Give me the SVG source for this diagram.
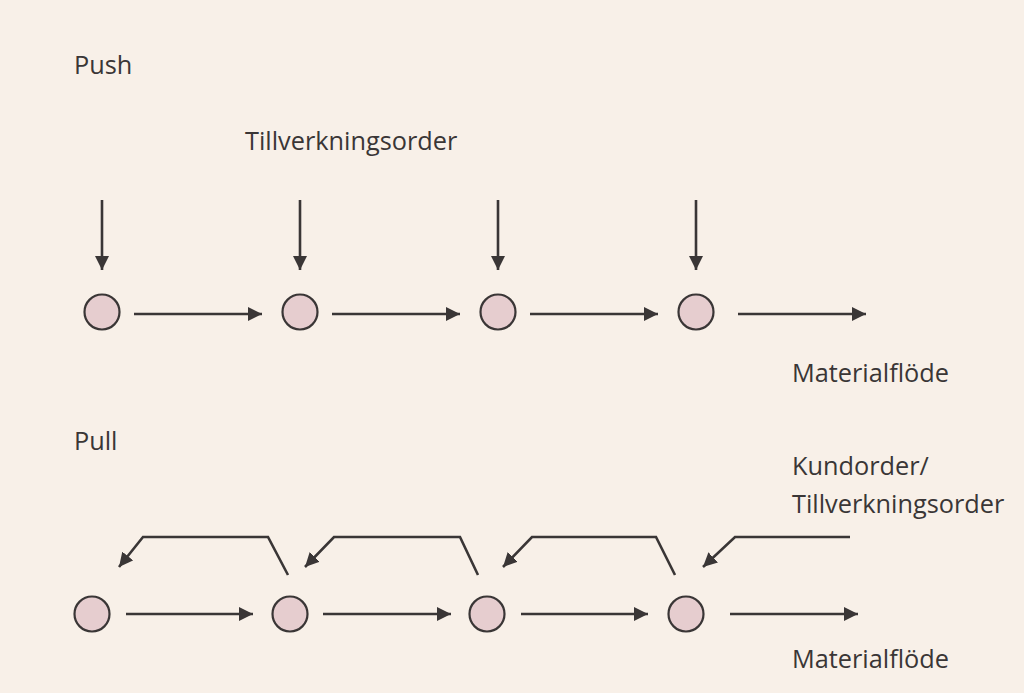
<svg xmlns="http://www.w3.org/2000/svg" width="1024" height="693" viewBox="0 0 1024 693">
<defs>
<marker id="ah" viewBox="0 0 10 10" refX="10" refY="5" markerWidth="14" markerHeight="14" markerUnits="userSpaceOnUse" orient="auto">
<path d="M0,0 L10,5 L0,10 z" fill="#3a3636"/>
</marker>
<style>
.t{font-family:"Open Sans","Noto Sans",sans-serif;font-size:25.3px;fill:#3a3636}
.n{fill:#e6cdcf;stroke:#3a3636;stroke-width:2.2}
.c{fill:none;stroke:#3a3636;stroke-width:2.6;marker-end:url(#ah)}
</style>
</defs>
<rect width="1024" height="693" fill="#f8f0e8"/>
<g id="labels">
<text class="t" x="74" y="74">Push</text>
<text class="t" x="245" y="150">Tillverkningsorder</text>
<text class="t" x="792" y="382">Materialflöde</text>
<text class="t" x="74" y="450">Pull</text>
<text class="t" x="792" y="475">Kundorder/</text>
<text class="t" x="792" y="513">Tillverkningsorder</text>
<text class="t" x="792" y="668">Materialflöde</text>
</g>
<g id="push-nodes">
<circle id="push1" class="n" cx="102" cy="312" r="17.5"/>
<circle id="push2" class="n" cx="300" cy="312" r="17.5"/>
<circle id="push3" class="n" cx="498" cy="312" r="17.5"/>
<circle id="push4" class="n" cx="696" cy="312" r="17.5"/>
</g>
<g id="pull-nodes">
<circle id="pull1" class="n" cx="92" cy="614" r="17.5"/>
<circle id="pull2" class="n" cx="290" cy="614" r="17.5"/>
<circle id="pull3" class="n" cx="487" cy="614" r="17.5"/>
<circle id="pull4" class="n" cx="686" cy="614" r="17.5"/>
</g>
<g id="connectors">
<line class="c" x1="102" y1="200" x2="102" y2="270"/>
<line class="c" x1="300" y1="200" x2="300" y2="270"/>
<line class="c" x1="498" y1="200" x2="498" y2="270"/>
<line class="c" x1="696" y1="200" x2="696" y2="270"/>
<line class="c" x1="134" y1="314" x2="262" y2="314"/>
<line class="c" x1="332" y1="314" x2="460" y2="314"/>
<line class="c" x1="530" y1="314" x2="658" y2="314"/>
<line class="c" x1="738" y1="314" x2="866" y2="314"/>
<line class="c" x1="126" y1="614" x2="253" y2="614"/>
<line class="c" x1="323" y1="614" x2="451" y2="614"/>
<line class="c" x1="521" y1="614" x2="648" y2="614"/>
<line class="c" x1="730" y1="614" x2="858" y2="614"/>
<polyline class="c" points="288,575 268,537 143,537 119,567"/>
<polyline class="c" points="478,575 460,537 334,537 305,567"/>
<polyline class="c" points="675,575 656,537 532,537 503,567"/>
<polyline class="c" points="850,537 735,537 703,567"/>
</g>
</svg>
